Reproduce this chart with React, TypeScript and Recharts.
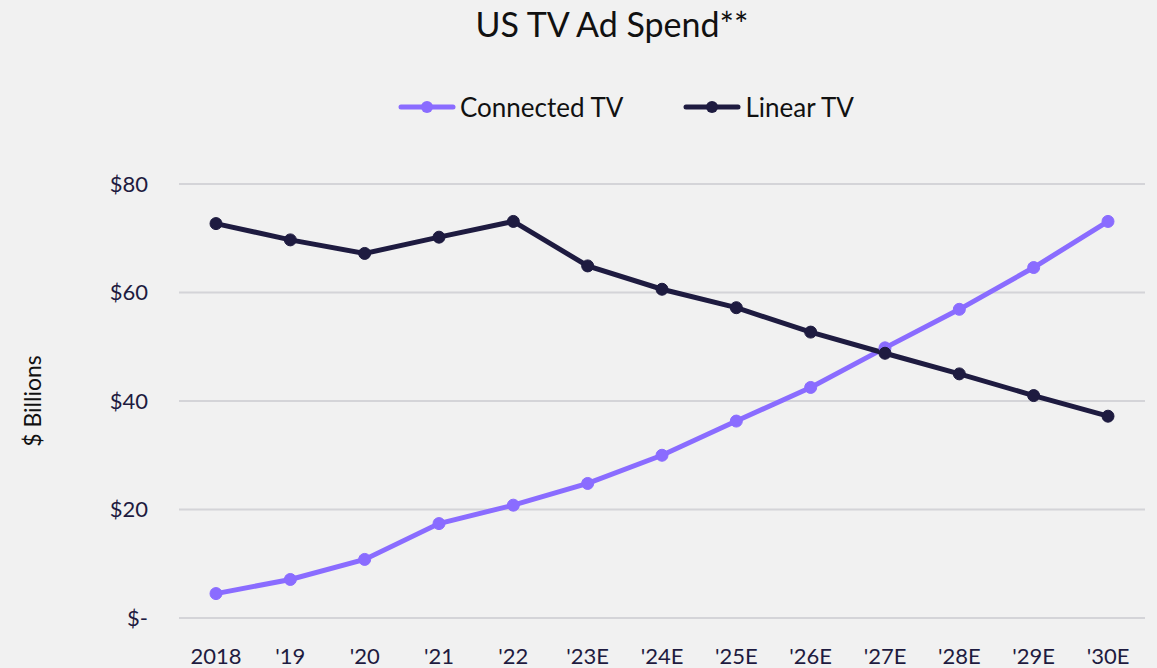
import { LineChart, Line, XAxis, YAxis, CartesianGrid, Label } from "recharts";

const years = ["2018", "'19", "'20", "'21", "'22", "'23E", "'24E", "'25E", "'26E", "'27E", "'28E", "'29E", "'30E"];
const connectedTv = [4.5, 7.1, 10.8, 17.4, 20.8, 24.8, 30.0, 36.3, 42.5, 49.8, 56.9, 64.6, 73.1];
const linearTv = [72.7, 69.7, 67.2, 70.2, 73.1, 64.9, 60.6, 57.2, 52.7, 48.8, 45.0, 41.0, 37.2];
const yTicks = [0, 20, 40, 60, 80];

const CONNECTED = "#8a6cff";
const LINEAR = "#1e1b40";
const FONT = "Lato, 'Open Sans', sans-serif";

const data = years.map((year, i) => ({
    year,
    connected: connectedTv[i],
    linear: linearTv[i],
}));

const fmtDollar = (v: number) => (v === 0 ? "$-" : `$${v}`);

const LegendItem = ({ color, label }: { color: string; label: string }) => (
    <div style={{ display: "flex", alignItems: "center", gap: 4 }}>
        <svg width={58} height={14}>
            <line x1={3} y1={7} x2={55} y2={7} stroke={color} strokeWidth={5} strokeLinecap="round" />
            <circle cx={29} cy={7} r={6} fill={color} />
        </svg>
        <span>{label}</span>
    </div>
);

export default function App() {
    return (
        <div
            style={{
                position: "absolute",
                left: 0,
                top: 0,
                width: 1157,
                height: 668,
                background: "#f1f1f1",
                fontFamily: FONT,
                color: "#111",
            }}
        >
            <div
                style={{
                    position: "absolute",
                    top: 3,
                    left: 412,
                    width: 400,
                    textAlign: "center",
                    fontSize: 34,
                }}
            >
                US TV Ad Spend**
            </div>
            <div
                style={{
                    position: "absolute",
                    top: 91,
                    left: 398,
                    display: "flex",
                    gap: 60,
                    fontSize: 26,
                }}
            >
                <LegendItem color={CONNECTED} label="Connected TV" />
                <LegendItem color={LINEAR} label="Linear TV" />
            </div>
            <LineChart width={1157} height={668} data={data} margin={{ top: 184, right: 12, bottom: 0, left: 0 }}>
                <CartesianGrid vertical={false} stroke="#d4d4d8" strokeWidth={2} />
                <XAxis
                    dataKey="year"
                    axisLine={false}
                    tickLine={false}
                    tickSize={0}
                    tickMargin={30}
                    height={50}
                    padding={{ left: 37, right: 37 }}
                    tick={{ fill: "#1e1b40", fontSize: 22, fontFamily: FONT }}
                    interval={0}
                />
                <YAxis
                    domain={[0, 80]}
                    ticks={yTicks}
                    tickFormatter={fmtDollar}
                    axisLine={false}
                    tickLine={false}
                    tickSize={0}
                    tickMargin={31}
                    width={179}
                    tick={{ fill: "#1e1b40", fontSize: 22, fontFamily: FONT }}
                >
                    <Label
                        value="$ Billions"
                        angle={-90}
                        position="insideLeft"
                        offset={33}
                        style={{ fill: "#111", fontSize: 23, fontFamily: FONT, textAnchor: "middle" }}
                    />
                </YAxis>
                <Line
                    dataKey="connected"
                    name="Connected TV"
                    stroke={CONNECTED}
                    strokeWidth={5}
                    dot={{ r: 6, fill: CONNECTED, stroke: CONNECTED, strokeWidth: 1 }}
                    isAnimationActive={false}
                />
                <Line
                    dataKey="linear"
                    name="Linear TV"
                    stroke={LINEAR}
                    strokeWidth={5}
                    dot={{ r: 6, fill: LINEAR, stroke: LINEAR, strokeWidth: 1 }}
                    isAnimationActive={false}
                />
            </LineChart>
        </div>
    );
}
